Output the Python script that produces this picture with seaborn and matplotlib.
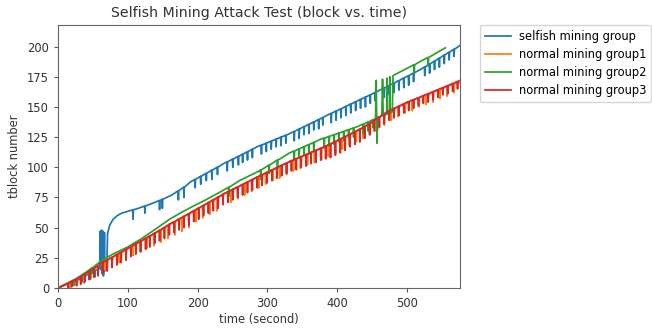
import matplotlib
matplotlib.use("Agg")
import matplotlib.pyplot as plt
import seaborn as sns
import pandas as pd

groups = ["selfish mining group", "normal mining group1", "normal mining group2", "normal mining group3"]
colors = ["#1f77b4", "#ff7f0e", "#2ca02c", "#d62728"]

# ---- selfish mining group (blue) ----
selfish_t = [0, 30, 58, 60, 60.5, 61, 62, 62.5, 63, 64, 64.5, 65, 66, 66.5, 67, 68, 70, 71, 74, 79, 85, 91,
             100, 115, 139, 163, 190, 237, 285, 332, 385, 461, 519, 576]
selfish_v = [0, 7, 16.3, 17, 47, 16, 15, 48, 12, 16, 47, 10, 17, 46, 14, 18, 21, 45, 52, 57, 60, 62,
             63.5, 66, 71, 77, 88, 103, 117, 128, 143, 164, 181, 201]
selfish_dip_t = [20, 35, 44, 52, 107, 124, 145, 149, 172, 180, 196, 204, 212, 220, 228, 242, 250, 258, 264, 271,
                 278, 291, 298, 305, 312, 319, 326, 338, 345, 352, 359, 366, 373, 379, 391, 398, 405, 412, 419,
                 426, 433, 440, 447, 454, 467, 474, 481, 488, 495, 502, 509, 525, 532, 539, 546, 553, 560, 567]
selfish_dip_base = [4.7, 8.8, 11.7, 14.3, 64.8, 67.9, 72.5, 73.5, 80.5, 83.5, 89.9, 92.5, 95, 97.6, 100.1, 104.5,
                    106.8, 109.1, 110.8, 112.9, 115, 118.4, 120, 121.7, 123.3, 125, 126.6, 129.7, 131.7, 133.7,
                    135.6, 137.6, 139.6, 141.3, 144.7, 146.6, 148.5, 150.5, 152.4, 154.3, 156.3, 158.2, 160.1,
                    162.1, 165.8, 167.8, 169.9, 171.9, 174, 176, 178.1, 183.1, 185.6, 188, 190.5, 193, 195.4, 197.8]
selfish_dip_low = [2, 5, 7, 9, 57, 62, 65, 66, 73, 75, 83, 86, 89, 90, 94, 97, 100, 102, 104, 106, 108, 111, 113,
                   115, 117, 118, 120, 122, 124, 127, 128, 131, 132, 135, 137, 139, 141, 143, 145, 147, 149, 150,
                   153, 155, 158, 160, 162, 164, 166, 168, 171, 176, 178, 181, 183, 186, 189, 192]

# ---- normal mining group1 (orange) ----
normal1_t = [0, 20, 40, 63, 100, 140, 160, 191, 237, 285, 332, 385, 440, 471, 500, 530, 576]
normal1_v = [0, 5, 11.5, 20.5, 32.5, 45.5, 52.5, 62.5, 77.5, 91.5, 104.5, 117.5, 133.5, 145.5, 153, 160, 170]
normal1_dip_t = [17, 27, 37, 47, 57, 67, 77, 87, 97, 107, 117, 127, 137, 147, 157, 167, 177, 187, 197, 207, 217,
                 227, 247, 257, 267, 277, 287, 297, 307, 317, 327, 337, 347, 357, 367, 377, 387, 397, 407, 417,
                 427, 437, 447, 457, 467, 477, 487, 497, 507, 517, 527, 537, 547, 557, 567]
normal1_dip_base = [4.5, 7.5, 10.7, 14.4, 18.3, 22, 25.2, 28.5, 31.7, 35, 38.2, 41.5, 44.7, 48.2, 51.7, 54.9,
                    58.1, 61.3, 64.7, 67.9, 71.2, 74.4, 80.6, 83.5, 86.4, 89.3, 92.3, 95, 97.8, 100.6, 103.3,
                    105.9, 108.4, 110.8, 113.3, 115.7, 118.3, 121.2, 124.1, 127, 129.9, 132.8, 136.4, 140.3,
                    144.2, 147.4, 150.1, 152.9, 155.3, 157.7, 160, 162.2, 164.6, 167, 169.2]
normal1_dip_low = [0, 2, 4, 8, 11, 15, 18, 21, 24, 27, 30, 33, 35, 38, 41, 44, 47, 50, 55, 58, 61, 64, 71, 74,
                   77, 80, 83, 86, 89, 91, 94, 97, 99, 102, 104, 106, 109, 112, 115, 118, 121, 124, 127, 131,
                   135, 139, 142, 145, 147, 150, 152, 154, 157, 159, 162]

# ---- normal mining group2 (green) ----
normal2_t = [0, 20, 40, 63, 80, 100, 120, 139, 160, 175, 191, 210, 237, 260, 285, 332, 375, 430, 455, 456, 457,
             458, 464, 465, 466, 471, 471.5, 472, 475, 475.5, 476, 479, 480, 488, 500, 520, 540, 555]
normal2_v = [0, 6, 13, 23, 28.5, 34, 41, 48.5, 57, 62, 67, 72.5, 81, 89, 96, 112, 123, 134, 140.5, 172, 120,
             141.3, 142.5, 173, 143, 144, 174, 144.3, 145, 175, 145.3, 146, 176, 178.4, 182, 188, 194, 199]
normal2_dip_t = [22, 48, 244, 290, 302, 314, 338, 345, 352, 359, 366, 381, 388, 395, 402, 409, 416, 423, 437,
                 444, 451, 510, 530]
normal2_dip_base = [6.6, 16.5, 83.4, 97.7, 101.8, 105.9, 113.5, 115.3, 117.1, 118.9, 120.7, 124.2, 125.6, 127,
                    128.4, 129.8, 131.2, 132.6, 135.8, 137.6, 139.4, 185, 191]
normal2_dip_low = [2, 12, 76, 90, 95, 99, 106, 108, 110, 111, 113, 116, 118, 119, 121, 122, 124, 125, 128, 130,
                   133, 178, 184]

# ---- normal mining group3 (red) ----
normal3_t = [0, 20, 40, 63, 100, 140, 160, 191, 237, 285, 332, 385, 440, 471, 500, 530, 576]
normal3_v = [0, 5.5, 12, 21, 33, 46, 53, 63, 78, 92, 105, 118, 134, 146, 154, 161, 172]
normal3_dip_t = [14, 19, 26, 32, 38, 45, 51, 57, 64, 70, 77, 84, 90, 97, 104, 111, 118, 125, 131, 138, 145, 152,
                 159, 166, 173, 180, 187, 194, 201, 208, 215, 222, 229, 236, 243, 250, 257, 264, 271, 278, 285,
                 292, 299, 306, 313, 320, 327, 334, 341, 348, 355, 362, 369, 376, 383, 390, 397, 404, 411, 418,
                 425, 432, 439, 446, 453, 460, 467, 474, 481, 488, 495, 502, 509, 516, 523, 530, 537, 544, 551,
                 558, 565, 572]
normal3_dip_base = [3.9, 5.2, 7.5, 9.4, 11.4, 14, 16.3, 18.6, 21.3, 23.3, 25.5, 27.8, 29.7, 32, 34.3, 36.6, 38.9,
                    41.1, 43.1, 45.4, 47.8, 50.2, 52.7, 54.9, 57.2, 59.4, 61.6, 64, 66.3, 68.5, 70.8, 73.1, 75.4,
                    77.7, 79.7, 81.8, 83.8, 85.8, 87.9, 89.9, 92, 93.9, 95.9, 97.8, 99.8, 101.7, 103.6, 105.5,
                    107.2, 108.9, 110.6, 112.4, 114.1, 115.8, 117.5, 119.5, 121.5, 123.5, 125.5, 127.6, 129.6,
                    131.6, 133.7, 136.3, 139, 141.8, 144.5, 146.8, 148.8, 150.7, 152.6, 154.5, 156.1, 157.7,
                    159.4, 161, 162.7, 164.4, 166, 167.7, 169.4, 171.1]
normal3_dip_low = [0, 1, 2, 3, 5, 7, 9, 10, 13, 14, 17, 19, 21, 23, 26, 28, 30, 32, 34, 37, 39, 41, 44, 46, 48,
                   50, 52, 55, 57, 60, 62, 64, 66, 69, 71, 73, 75, 77, 79, 81, 83, 85, 87, 89, 91, 93, 95, 97,
                   98, 100, 101, 103, 104, 106, 107, 108, 110, 112, 114, 117, 119, 121, 124, 127, 130, 133, 136,
                   139, 141, 143, 145, 147, 149, 151, 153, 154, 156, 158, 160, 161, 163, 165]

series = [
    (selfish_t, selfish_v, selfish_dip_t, selfish_dip_base, selfish_dip_low),
    (normal1_t, normal1_v, normal1_dip_t, normal1_dip_base, normal1_dip_low),
    (normal2_t, normal2_v, normal2_dip_t, normal2_dip_base, normal2_dip_low),
    (normal3_t, normal3_v, normal3_dip_t, normal3_dip_base, normal3_dip_low),
]

frames = []
for name, (at, av, dt, db, dl) in zip(groups, series):
    pts = list(zip(at, av))
    for t, b, d in zip(dt, db, dl):
        pts += [(t, b), (t + 0.5, d), (t + 1, b)]
    pts.sort()
    frames.append(pd.DataFrame({"time": [p[0] for p in pts],
                                "block": [p[1] for p in pts],
                                "group": name}))
df = pd.concat(frames, ignore_index=True)

fig = plt.figure(figsize=(6.52, 3.28), dpi=100)
ax = fig.add_axes([0.089, 0.122, 0.6165, 0.802])
sns.lineplot(data=df, x="time", y="block", hue="group", hue_order=groups,
             palette=colors, estimator=None, sort=False, linewidth=1.25, ax=ax)

ax.set_xlim(0, 576)
ax.set_ylim(0, 218)
ax.set_xticks([0, 100, 200, 300, 400, 500])
ax.set_yticks([0, 25, 50, 75, 100, 125, 150, 175, 200])
ax.set_title("Selfish Mining Attack Test (block vs. time)", fontsize=10.2, color="#333333")
ax.set_xlabel("time (second)", fontsize=8.3, color="#333333", labelpad=2)
ax.set_ylabel("tblock number", fontsize=8.3, color="#333333")
ax.tick_params(labelsize=8.3, labelcolor="#333333", length=3, color="#555555")
for s in ax.spines.values():
    s.set_color("#666666")
ax.legend(bbox_to_anchor=(1.05, 1), loc="upper left", borderaxespad=0., fontsize=8.3,
          handlelength=2.3, handletextpad=0.7, labelspacing=0.45)

fig.savefig("out.png", dpi=100)
